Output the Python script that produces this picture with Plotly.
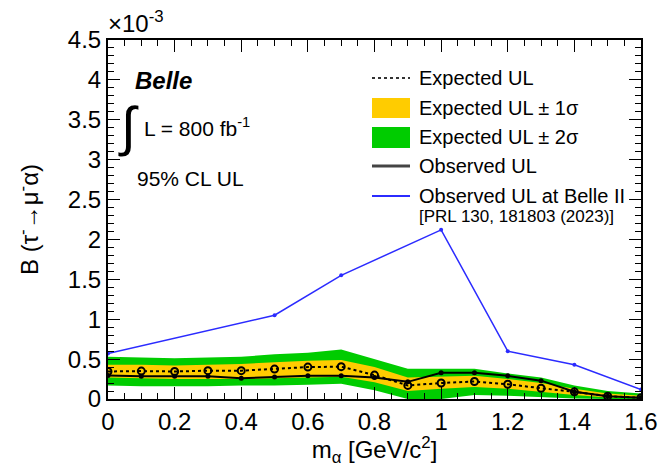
import plotly.graph_objects as go

# ---------------- data (branching fraction in units of 1e-3) ----------------
mass = [0.0, 0.1, 0.2, 0.3, 0.4, 0.5, 0.6, 0.7, 0.8, 0.9, 1.0, 1.1, 1.2, 1.3, 1.4, 1.5, 1.6]
expected = [0.345, 0.35, 0.345, 0.355, 0.355, 0.375, 0.40, 0.405, 0.30, 0.17, 0.20, 0.22, 0.185, 0.135, 0.09, 0.035, 0.015]
observed = [0.295, 0.285, 0.285, 0.285, 0.26, 0.275, 0.29, 0.29, 0.27, 0.215, 0.33, 0.33, 0.29, 0.23, 0.09, 0.035, 0.015]
sig1_hi = [0.43, 0.43, 0.42, 0.43, 0.44, 0.46, 0.48, 0.49, 0.40, 0.27, 0.28, 0.29, 0.25, 0.20, 0.13, 0.07, 0.04]
sig1_lo = [0.27, 0.26, 0.25, 0.25, 0.25, 0.26, 0.27, 0.28, 0.21, 0.10, 0.13, 0.15, 0.13, 0.09, 0.05, 0.02, 0.01]
sig2_hi = [0.53, 0.52, 0.51, 0.52, 0.53, 0.56, 0.58, 0.62, 0.50, 0.38, 0.38, 0.38, 0.32, 0.27, 0.17, 0.10, 0.07]
sig2_lo = [0.17, 0.16, 0.16, 0.16, 0.17, 0.17, 0.18, 0.19, 0.11, 0.0, 0.0, 0.05, 0.04, 0.02, 0.005, 0.0, 0.0]

belle2_mass = [0.0, 0.5, 0.7, 1.0, 1.2, 1.4, 1.6]
belle2_obs = [0.57, 1.05, 1.55, 2.12, 0.60, 0.43, 0.12]

x_tickvals = [0.0, 0.2, 0.4, 0.6, 0.8, 1.0, 1.2, 1.4, 1.6]
x_ticktext = ["0", "0.2", "0.4", "0.6", "0.8", "1", "1.2", "1.4", "1.6"]
y_tickvals = [0.0, 0.5, 1.0, 1.5, 2.0, 2.5, 3.0, 3.5, 4.0, 4.5]
y_ticktext = ["0", "0.5", "1", "1.5", "2", "2.5", "3", "3.5", "4", "4.5"]

# ---------------- geometry ----------------
W, H = 661, 467
L, R, T, B = 108, 20, 40, 68
PW, PH = W - L - R, H - T - B
FONT = "Liberation Sans, Arial, sans-serif"

def px(x):
    return (x - L) / PW

def py(y):
    return (H - B - y) / PH

YELLOW = "#ffcc00"
GREEN = "#00cc00"
BLUE = "#2b2bff"

fig = go.Figure()
fig.add_trace(go.Scatter(x=mass, y=sig2_hi, mode="lines", line=dict(width=0),
                         showlegend=False, hoverinfo="skip"))
fig.add_trace(go.Scatter(x=mass, y=sig2_lo, mode="lines", line=dict(width=0),
                         fill="tonexty", fillcolor=GREEN, showlegend=False, hoverinfo="skip"))
fig.add_trace(go.Scatter(x=mass, y=sig1_hi, mode="lines", line=dict(width=0),
                         showlegend=False, hoverinfo="skip"))
fig.add_trace(go.Scatter(x=mass, y=sig1_lo, mode="lines", line=dict(width=0),
                         fill="tonexty", fillcolor=YELLOW, showlegend=False, hoverinfo="skip"))
fig.add_trace(go.Scatter(x=mass, y=observed, mode="lines+markers",
                         line=dict(color="black", width=2),
                         marker=dict(color="black", size=5), showlegend=False))
fig.add_trace(go.Scatter(x=mass, y=expected, mode="lines+markers",
                         line=dict(color="black", width=2, dash="dot"),
                         marker=dict(symbol="circle-open", color="black", size=7,
                                     line=dict(width=2, color="black")),
                         showlegend=False))
fig.add_trace(go.Scatter(x=belle2_mass, y=belle2_obs, mode="lines+markers",
                         line=dict(color=BLUE, width=1.5),
                         marker=dict(color=BLUE, size=4), showlegend=False))

axis_common = dict(showline=True, linewidth=2, linecolor="black", mirror="ticks",
                   ticks="inside", ticklen=12, tickwidth=1, tickcolor="black",
                   showgrid=False, zeroline=False, automargin=False,
                   tickfont=dict(family=FONT, size=24, color="black"))

fig.update_xaxes(range=[0, 1.6], tickmode="array", tickvals=x_tickvals, ticktext=x_ticktext,
                 minor=dict(dtick=0.05, tick0=0, ticks="inside", ticklen=6, tickcolor="black", showgrid=False),
                 title=dict(text="m<sub>α</sub> [GeV/c<sup>2</sup>]",
                            font=dict(family=FONT, size=24, color="black"), standoff=4),
                 **axis_common)
fig.update_yaxes(range=[0, 4.5], tickmode="array", tickvals=y_tickvals, ticktext=y_ticktext,
                 minor=dict(dtick=0.1, tick0=0, ticks="inside", ticklen=6, tickcolor="black", showgrid=False),
                 title=dict(text="B (τ<sup>-</sup>→μ<sup>-</sup>α)",
                            font=dict(family=FONT, size=24, color="black"), standoff=22),
                 **axis_common)

ann = []
def text(x, y, s, size, xanchor="left", yanchor="middle", color="black"):
    ann.append(dict(x=px(x), y=py(y), xref="paper", yref="paper", text=s, showarrow=False,
                    xanchor=xanchor, yanchor=yanchor,
                    font=dict(family=FONT, size=size, color=color)))

text(106, 39, "×10<sup>-3</sup>", 24, yanchor="bottom")
text(133, 80, "<b><i>Belle</i></b>", 24)
text(116, 126, "∫", 54)
text(142, 127, "L = 800 fb<sup>-1</sup>", 21)
text(135, 178, "95% CL UL", 21)

shapes = []
# legend symbols
shapes.append(dict(type="line", xref="paper", yref="paper", x0=px(372), x1=px(410), y0=py(78), y1=py(78),
                   line=dict(color="#333333", width=2, dash="dot")))
shapes.append(dict(type="rect", xref="paper", yref="paper", x0=px(372), x1=px(410), y0=py(118), y1=py(98),
                   fillcolor=YELLOW, line=dict(width=0)))
shapes.append(dict(type="rect", xref="paper", yref="paper", x0=px(372), x1=px(410), y0=py(148), y1=py(127),
                   fillcolor=GREEN, line=dict(width=0)))
shapes.append(dict(type="line", xref="paper", yref="paper", x0=px(372), x1=px(410), y0=py(166), y1=py(166),
                   line=dict(color="#444444", width=3)))
shapes.append(dict(type="line", xref="paper", yref="paper", x0=px(372), x1=px(410), y0=py(196), y1=py(196),
                   line=dict(color=BLUE, width=2)))

text(417, 78, "Expected UL", 20)
text(417, 108, "Expected UL ± 1σ", 20)
text(417, 137, "Expected UL ± 2σ", 20)
text(417, 166, "Observed UL", 20)
text(417, 196, "Observed UL at Belle II", 20)
text(417, 216, "[PRL 130, 181803 (2023)]", 17)

fig.update_layout(width=W, height=H, margin=dict(l=L, r=R, t=T, b=B),
                  paper_bgcolor="white", plot_bgcolor="white",
                  annotations=ann, shapes=shapes, showlegend=False,
                  font=dict(family=FONT, color="black"))

fig.write_html("out.html")
